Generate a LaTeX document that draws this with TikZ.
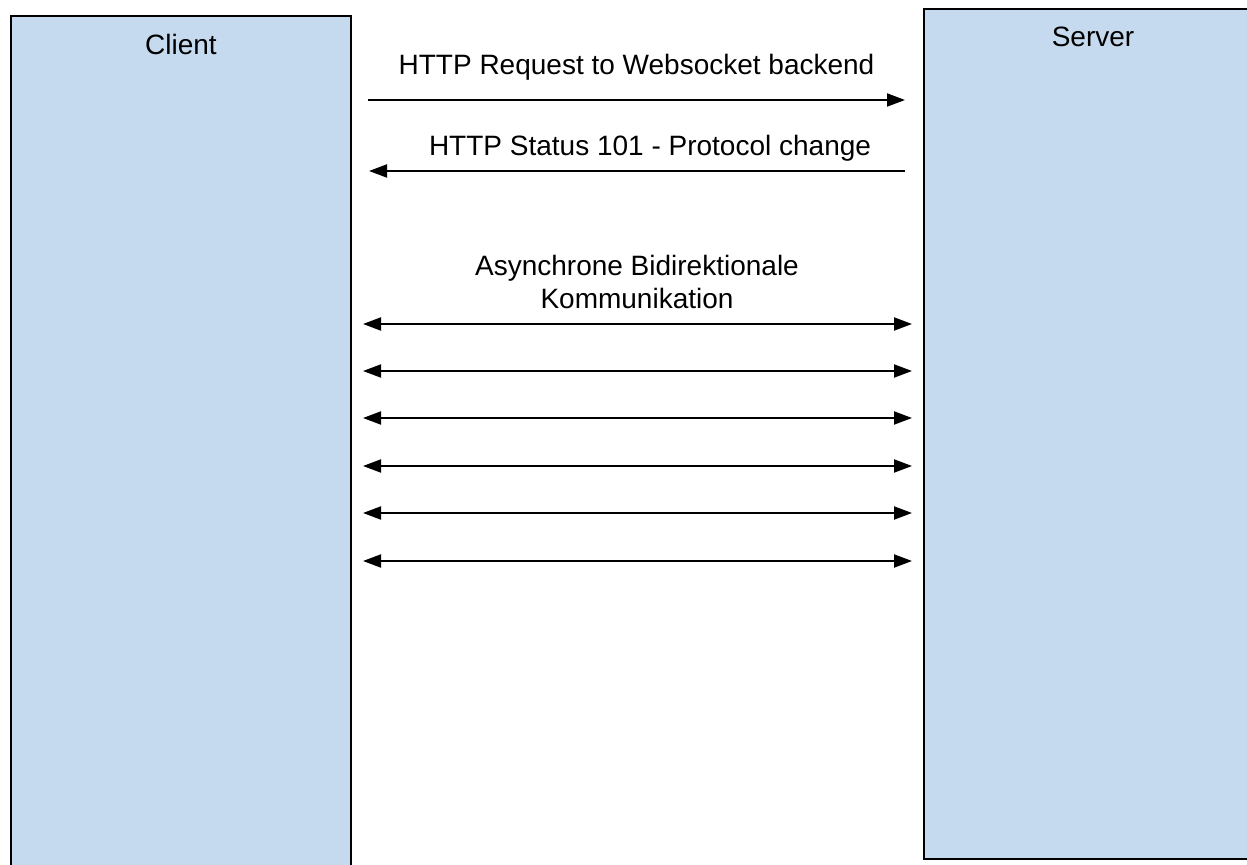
\documentclass[tikz,border=0pt]{standalone}
\usepackage{fontspec}
\setmainfont{Liberation Sans}
\usetikzlibrary{arrows.meta}
\definecolor{boxblue}{RGB}{197,218,239}

\begin{document}
\begin{tikzpicture}[%
    x=0.5pt, y=-0.5pt,                     % one unit is one pixel of the sketch
    >={Triangle[length=9pt,width=6.5pt]},  % Filled arrow heads
    font=\fontsize{14}{16.5}\selectfont,
    ]
% -------------------------------------------------
% A few styles
\tikzset{
  party/.style={draw, fill=boxblue, line width=1pt, rectangle,
    anchor=north west, inner sep=0pt},
  lbl/.style={anchor=base, inner sep=0pt, align=center},
  % Connector line styles
  msg/.style={->, line width=1pt},
  duplex/.style={<->, line width=1pt}
}
% -------------------------------------------------
\useasboundingbox (0,0) rectangle (1247,865);
\clip (0,0) rectangle (1247,865);

% The two parties
\node [party, minimum width=170pt, minimum height=430pt] (client) at (10,15) {};
\node [party, minimum width=170pt, minimum height=425pt] (server) at (923,8) {};
\node [lbl] (clientlbl) at (181,55) {Client};
\node [lbl] (serverlbl) at (1093,47) {Server};

% Handshake
\coordinate (reqA) at (368,100);
\coordinate (reqB) at (905,100);
\coordinate (resA) at (905,171);
\coordinate (resB) at (369,171);
\draw [msg] (reqA) -- node [lbl, yshift=12.5pt] (req) {HTTP Request to Websocket backend} (reqB);
\draw [msg] (resA) -- node [lbl, yshift=7.5pt, xshift=6.5pt] (res) {HTTP Status 101 - Protocol change} (resB);

% Websocket traffic
\node [lbl] (async) at (637,309) {Asynchrone Bidirektionale\\Kommunikation};
\foreach \y [count=\i] in {324,371,418,466,513,561} {
  \coordinate (cl\i) at (363,\y);
  \coordinate (sv\i) at (912,\y);
  \draw [duplex] (cl\i) -- (sv\i);
}
% -------------------------------------------------
\end{tikzpicture}
\end{document}
